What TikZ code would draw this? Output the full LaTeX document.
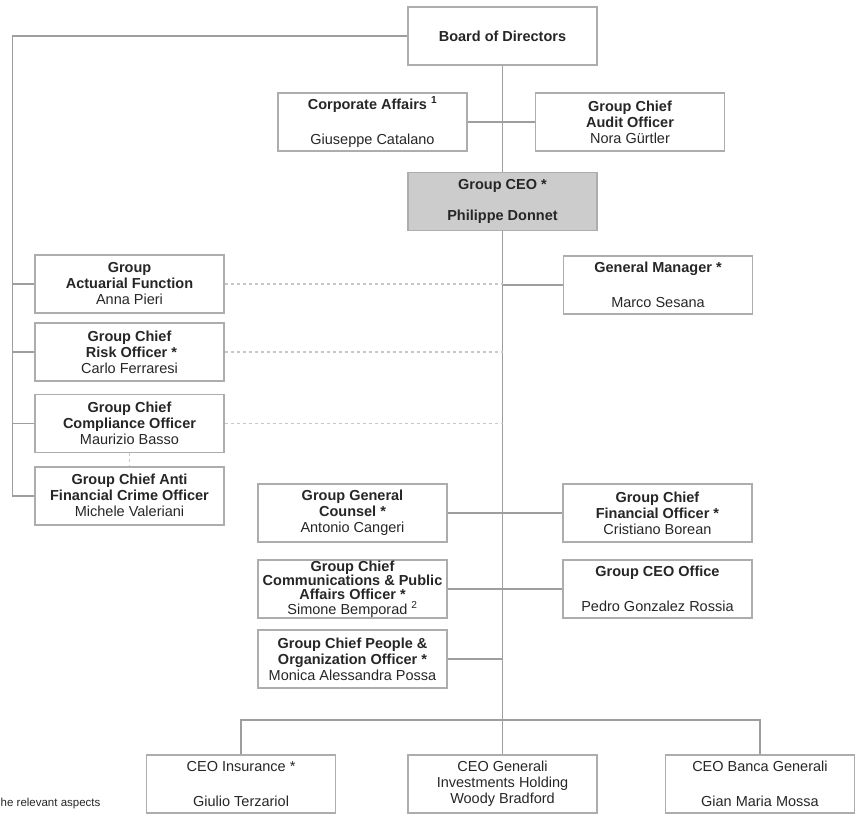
\documentclass[tikz,border=0pt]{standalone}
\usepackage{fontspec}
\setmainfont{Liberation Sans}
\usepackage{tikz}
\usetikzlibrary{positioning}

\newcommand{\orgfont}{\fontsize{14.5}{16}\selectfont}
\newcommand{\tightfont}{\fontsize{14.5}{14.4}\selectfont}

\begin{document}
\begin{tikzpicture}[
		orgbox/.style={rectangle, draw=black!32, line width=1.5pt, minimum width=189pt,
			minimum height=58pt, inner sep=0pt, align=center, font=\orgfont, text=black!85},
		ceobox/.style={orgbox, fill=black!20},
		tightbox/.style={orgbox, font=\tightfont},
		link/.style={draw=black!38, line width=1.5pt},
		dotlink/.style={draw=black!22, line width=1.5pt, dash pattern=on 3pt off 3pt},
		notetext/.style={font=\fontsize{11.5}{13}\selectfont, text=black!85, inner sep=0pt}
		]
		\useasboundingbox (0,0) rectangle (857pt,-815pt);

		\node[orgbox](S0) at (502.5pt,-36pt){\textbf{Board of Directors}};
		\node[orgbox, below of = S0, xshift = -130pt, yshift = -57.5pt](S1){\textbf{Corporate Affairs \textsuperscript{1}}\\[19pt]Giuseppe Catalano};
		\node[orgbox, below of = S0, xshift = 127.5pt, yshift = -57.5pt](S2){\textbf{Group Chief}\\\textbf{Audit Officer}\\Nora Gürtler};
		\node[ceobox, below of = S0, yshift = -137pt](S3){\textbf{Group CEO *}\\[15pt]\textbf{Philippe Donnet}};
		\node[orgbox, below of = S3, xshift = 155.5pt, yshift = -55pt](S4){\textbf{General Manager *}\\[19pt]Marco Sesana};

		% left column
		\node[orgbox, below of = S3, xshift = -373pt, yshift = -54pt](A1){\textbf{Group}\\\textbf{Actuarial Function}\\Anna Pieri};
		\node[orgbox, below of = A1, yshift = -39.5pt](A2){\textbf{Group Chief}\\\textbf{\ Risk Officer *}\\Carlo Ferraresi};
		\node[orgbox, below of = A2, yshift = -43pt](A3){\textbf{Group Chief}\\\textbf{Compliance Officer}\\Maurizio Basso};
		\node[orgbox, below of = A3, yshift = -44pt](A4){\textbf{Group Chief Anti}\\\textbf{Financial Crime Officer}\\Michele Valeriani};

		% staff of the CEO
		\node[orgbox, below of = S3, xshift = -150pt, yshift = -283pt](G1){\textbf{Group General}\\\textbf{Counsel *}\\Antonio Cangeri};
		\node[orgbox, right of = G1, xshift = 276.5pt](G2){\textbf{Group Chief}\\\textbf{Financial Officer *}\\Cristiano Borean};
		\node[tightbox, below of = G1, yshift = -47.5pt](G3){\textbf{Group Chief}\\\textbf{Communications \& Public}\\\textbf{Affairs Officer *}\\Simone Bemporad \textsuperscript{2}};
		\node[orgbox, right of = G3, xshift = 276.5pt](G4){\textbf{Group CEO Office}\\[19pt]Pedro Gonzalez Rossia};
		\node[orgbox, below of = G3, yshift = -41.5pt](G5){\textbf{Group Chief People \&}\\\textbf{Organization Officer *}\\Monica Alessandra Possa};

		% business lines
		\node[orgbox, below of = G5, xshift = 150pt, yshift = -96.5pt](T2){CEO Generali\\Investments Holding\\Woody Bradford};
		\node[orgbox, left of = T2, xshift = -233pt](T1){CEO Insurance *\\[19pt]Giulio Terzariol};
		\node[orgbox, right of = T2, xshift = 229pt](T3){CEO Banca Generali\\[19pt]Gian Maria Mossa};

		\node[notetext, anchor=base west](N0) at (0.5pt,-806pt){he relevant aspects};

		\coordinate (J0) at ([yshift=34pt]T2.north);
		\coordinate (J1) at ([xshift=-22pt]A1.west);

		\draw[link] (S0.south) -- (S3.north);
		\draw[link] (S1.east) -- (S2.west);
		\draw[link] (S3.south) -- (J0);
		\draw[link] (S4.west) -- (S4.west -| S3.south);
		\draw[link] (S0.west) -| (J1) |- (A4.west);
		\draw[link] (J1) -- (A1.west);
		\draw[link] (A2.west -| J1) -- (A2.west);
		\draw[link] (A3.west -| J1) -- (A3.west);
		\draw[dotlink] (A1.east) -- (A1.east -| S3.south);
		\draw[dotlink] (A2.east) -- (A2.east -| S3.south);
		\draw[dotlink] (A3.east) -- (A3.east -| S3.south);
		\draw[dotlink] (A3.south) -- (A4.north);
		\draw[link] (G1.east) -- (G2.west);
		\draw[link] (G3.east) -- (G4.west);
		\draw[link] (G5.east) -- (G5.east -| S3.south);
		\draw[link] (T1.north) |- (J0) -| (T3.north);
		\draw[link] (J0) -- (T2.north);
	\end{tikzpicture}
\end{document}
